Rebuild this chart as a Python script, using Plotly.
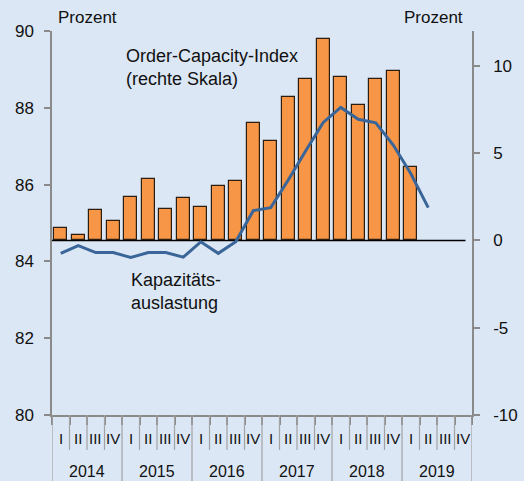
import plotly.graph_objects as go

# ---- data ----
years = ["2014", "2015", "2016", "2017", "2018", "2019"]
quarter_labels = ["I", "II", "III", "IV"]
# Order-Capacity-Index (right scale), 2014 Q1 .. 2019 Q1
oci = [0.72, 0.32, 1.73, 1.13, 2.51, 3.52, 1.82, 2.42, 1.94, 3.12, 3.43,
       6.73, 5.72, 8.24, 9.26, 11.53, 9.35, 7.75, 9.26, 9.73, 4.23]
# Kapazitätsauslastung (left scale), 2014 Q1 .. 2019 Q2
kap = [84.21, 84.41, 84.23, 84.23, 84.10, 84.23, 84.23, 84.11, 84.51, 84.21,
       84.51, 85.32, 85.40, 86.12, 86.88, 87.62, 88.01, 87.70, 87.61, 87.03,
       86.29, 85.40]
right_ticks = [-10, -5, 0, 5, 10]
right_tick_text = ["-10", "-5", "0", "5", "10"]
left_ticks = [80, 82, 84, 86, 88, 90]

n_q = len(years) * len(quarter_labels)
xpos_bar = [i + 0.5 for i in range(len(oci))]
xpos_line = [i + 0.5 for i in range(len(kap))]

BG = "#DBE7F5"
GRAY = "#8a8a8a"
FONT = "Liberation Sans, Arial, sans-serif"

fig = go.Figure()
fig.add_trace(go.Bar(
    x=xpos_bar, y=oci, yaxis="y", width=0.76,
    marker=dict(color="#F79646", line=dict(color="#2b1d10", width=1.2)),
    showlegend=False, hoverinfo="skip",
))
fig.add_trace(go.Scatter(
    x=xpos_line, y=kap, yaxis="y2", mode="lines",
    line=dict(color="#3A6598", width=3),
    showlegend=False, hoverinfo="skip",
))

annotations = []
# quarter labels
for q in range(n_q):
    annotations.append(dict(
        x=q + 0.5, xref="x", y=-0.060, yref="paper",
        text=quarter_labels[q % 4], showarrow=False,
        font=dict(size=15, color="#111", family=FONT),
        xanchor="center", yanchor="middle",
    ))
# year labels
for k, yr in enumerate(years):
    annotations.append(dict(
        x=4 * k + 2, xref="x", y=-0.147, yref="paper",
        text=yr, showarrow=False,
        font=dict(size=16, color="#111", family=FONT),
        xanchor="center", yanchor="middle",
    ))
annotations += [
    dict(x=0.010, y=1.036, xref="paper", yref="paper", text="Prozent",
         showarrow=False, xanchor="left", yanchor="middle",
         font=dict(size=17, color="#111", family=FONT)),
    dict(x=0.983, y=1.036, xref="paper", yref="paper", text="Prozent",
         showarrow=False, xanchor="right", yanchor="middle",
         font=dict(size=17, color="#111", family=FONT)),
    dict(x=0.172, y=0.966, xref="paper", yref="paper",
         text="Order-Capacity-Index<br>(rechte Skala)",
         showarrow=False, xanchor="left", yanchor="top", align="left",
         font=dict(size=18, color="#111", family=FONT)),
    dict(x=0.184, y=0.384, xref="paper", yref="paper",
         text="Kapazitäts-<br>auslastung",
         showarrow=False, xanchor="left", yanchor="top", align="left",
         font=dict(size=18, color="#111", family=FONT)),
]

shapes = []
# zero line of the index
shapes.append(dict(type="line", xref="x", yref="y", x0=0, x1=23.63, y0=0, y1=0,
                   line=dict(color="#000", width=1.6), layer="below"))
# quarter / year separators below the axis
for b in range(n_q + 1):
    is_year = (b % 4 == 0)
    shapes.append(dict(type="line", xref="x", yref="paper", x0=b, x1=b,
                       y0=0, y1=(-0.172 if is_year else -0.091),
                       line=dict(color="#a3a3a3", width=1.2)))

fig.update_layout(
    width=524, height=481,
    margin=dict(l=52, r=52, t=31, b=66, autoexpand=False),
    paper_bgcolor=BG, plot_bgcolor=BG,
    font=dict(family=FONT, size=16, color="#111"),
    showlegend=False,
    xaxis=dict(range=[0, n_q], showgrid=False, zeroline=False, automargin=False,
               showline=True, linecolor=GRAY, linewidth=1.5,
               tickvals=list(range(n_q + 1)), ticks="outside", ticklen=8,
               tickwidth=2, tickcolor=GRAY, showticklabels=False),
    yaxis=dict(range=[-10, 12], side="right", tickvals=right_ticks,
               ticktext=right_tick_text, automargin=False,
               showgrid=False, zeroline=False, showline=True,
               linecolor=GRAY, linewidth=1.5, ticks="outside", ticklen=6,
               tickcolor=GRAY, tickwidth=1.5, ticklabelstandoff=10,
               tickfont=dict(size=17, color="#111", family=FONT)),
    yaxis2=dict(range=[80, 90], side="left", overlaying="y", tickvals=left_ticks,
                automargin=False,
                showgrid=False, zeroline=False, showline=True,
                linecolor=GRAY, linewidth=1.5, ticks="outside", ticklen=6,
                tickcolor=GRAY, tickwidth=1.5, ticklabelstandoff=7,
                tickfont=dict(size=17, color="#111", family=FONT)),
    annotations=annotations,
    shapes=shapes,
    bargap=0,
)

fig.write_html(
    "out.html",
    config={"displayModeBar": False},
    post_script="document.body.style.margin='0px';document.body.style.background='#DBE7F5';",
)
